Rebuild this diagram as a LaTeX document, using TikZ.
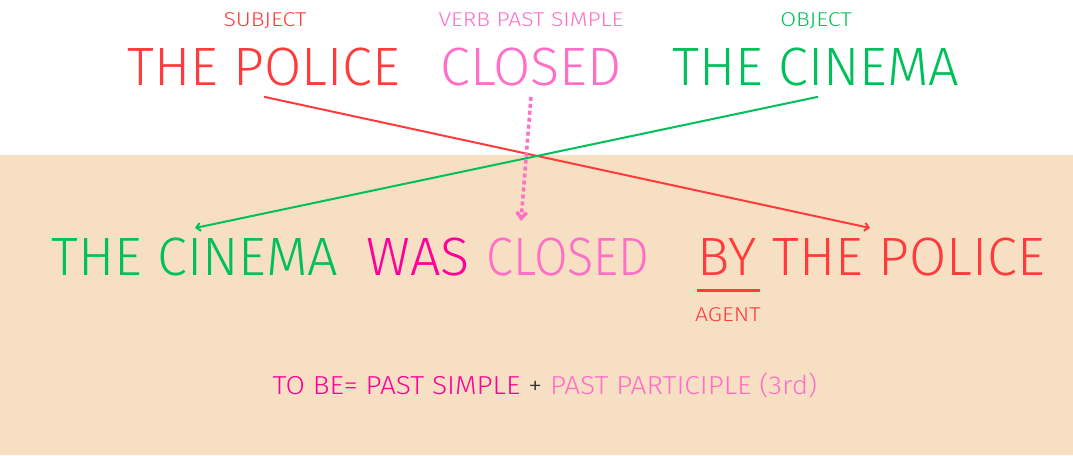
\documentclass[tikz,border=0pt]{standalone}
\usepackage{fontspec}
\setmainfont{Fira Sans Light}
\newfontfamily\tagfont[FakeStretch=1.15]{Fira Sans Light}
\newfontfamily\rulefont[FakeStretch=1.08]{Fira Sans Light}
\newfontfamily\narrowfont[FakeStretch=0.9]{Fira Sans Light}
\usetikzlibrary{arrows.meta}
\definecolor{subjred}{RGB}{255,59,59}
\definecolor{objgreen}{RGB}{0,192,90}
\definecolor{verbpink}{RGB}{255,110,199}
\definecolor{wasmag}{RGB}{255,0,153}
\definecolor{sand}{RGB}{247,223,196}
\begin{document}
\begin{tikzpicture}[x=1pt,y=-1pt]
  \tikzstyle{big}=[inner sep=0pt,anchor=base,font=\fontsize{54}{54}\selectfont]
  \tikzstyle{tag}=[inner sep=0pt,anchor=base,font=\tagfont\fontsize{20}{20}\selectfont]
  \useasboundingbox (0,0) rectangle (1073,455);
  \fill[sand] (0,155) rectangle (1073,455);
  % active sentence
  \node[tag,subjred] (lsubj) at (265,27) {SUBJECT};
  \node[tag,verbpink] (lverb) at (531,27) {VERB PAST SIMPLE};
  \node[tag,objgreen] (lobj) at (816,27) {OBJECT};
  \node[big,subjred] (tpolice) at (264,85) {THE POLICE};
  \node[big,verbpink] (tclosed) at (531,85) {CLOSED};
  \node[big,objgreen] (tcinema) at (816,85) {THE CINEMA};
  % passive sentence
  \node[big,objgreen] (bcinema) at (195,275) {THE CINEMA};
  \node[big,wasmag] (bwas) at (418,275) {WAS};
  \node[big,verbpink,font=\narrowfont\fontsize{54}{54}\selectfont] (bclosed) at (568,275) {CLOSED};
  \node[big,subjred] (bby) at (727,275) {BY};
  \node[big,subjred] (bpolice) at (909,275) {THE POLICE};
  \node[tag,subjred] (lagent) at (728,321) {AGENT};
  \draw[subjred,line width=3pt] (697,290) -- (760,290);
  \coordinate (gend) at (195,228);
  \coordinate (rend) at (870,228);
  \draw[-{Straight Barb[length=4pt,width=8pt]},subjred,line width=2pt] ([yshift=-11pt]tpolice.south) -- (rend);
  \draw[-{Straight Barb[length=4pt,width=8pt]},objgreen,line width=2pt] ([xshift=2pt,yshift=-11pt]tcinema.south) -- (gend);
  \draw[-{Straight Barb[length=6pt,width=10pt]},verbpink,line width=3.5pt,dash pattern=on 4pt off 3pt]
    ([yshift=-11pt]tclosed.south) -- ([xshift=-10pt,yshift=7pt]tclosed.south |- gend);
  % rule
  \node[inner sep=0pt,anchor=base,font=\rulefont\fontsize{26}{26}\selectfont] (rule) at (545,394)
    {\textcolor{wasmag}{TO BE= PAST SIMPLE} \textcolor{black!80}{+} \textcolor{verbpink}{PAST PARTICIPLE (3rd)}};
\end{tikzpicture}
\end{document}
